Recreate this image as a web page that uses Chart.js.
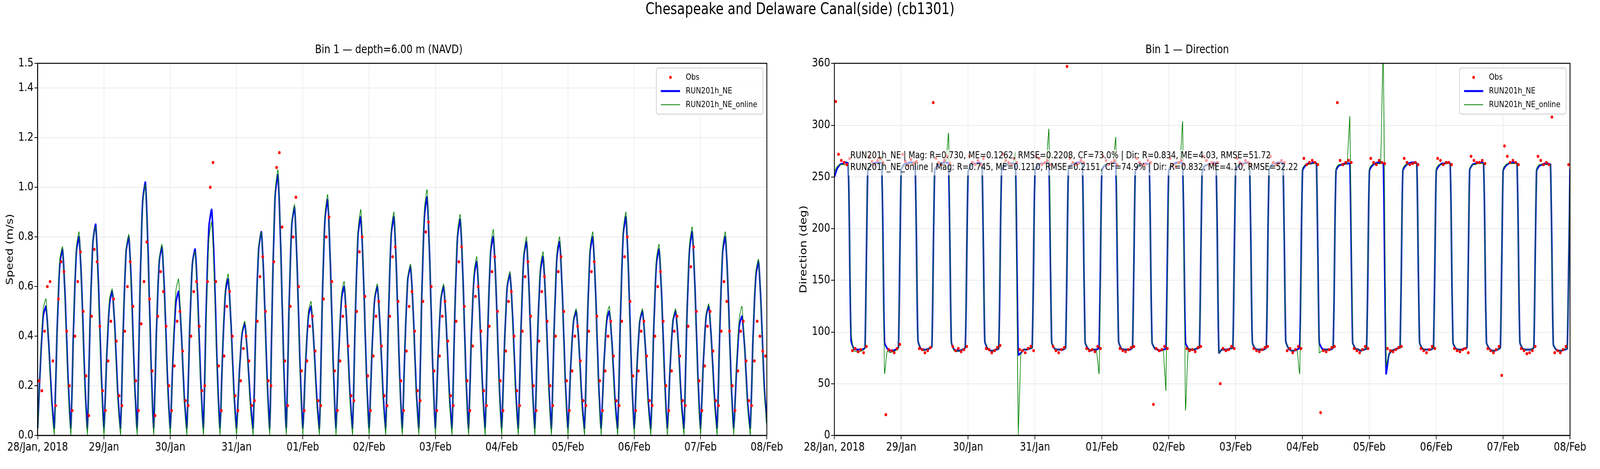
<!DOCTYPE html>
<html>
<head>
<meta charset="utf-8">
<script src="https://cdn.jsdelivr.net/npm/chart.js@4.4.1/dist/chart.umd.min.js"></script>
<style>
html, body { margin: 0; background: #fff; overflow: hidden; }
#page { position: absolute; left: 0; top: 0; width: 5000px; height: 1200px; transform-origin: 0 0; font-family: "DejaVu Sans", sans-serif; }
#sup { position: absolute; top: 0; left: 0; width: 5000px; text-align: center; font-size: 40px; line-height: 40px; padding-top: 2px; }
.wrap { position: absolute; top: 100px; height: 1100px; }
</style>
</head>
<body>
<div id="page">
<div id="sup">Chesapeake and Delaware Canal(side) (cb1301)</div>
<div class="wrap" style="left:10px;width:2440px"><canvas id="speed" style="width:2440px;height:1100px"></canvas></div>
<div class="wrap" style="left:2490px;width:2470px"><canvas id="dir" style="width:2470px;height:1100px"></canvas></div>
</div>
<script>
// fit the 5000x1200 layout to whatever the viewport really is
document.getElementById('page').style.transform = 'scale(' + (window.innerWidth / 5000) + ',' + (window.innerHeight / 1200) + ')';

// hours since 28/Jan 2018 00:00, one tick per day
var dayLabels = ["28/Jan, 2018", "29/Jan", "30/Jan", "31/Jan", "01/Feb", "02/Feb", "03/Feb", "04/Feb", "05/Feb", "06/Feb", "07/Feb", "08/Feb"];

// hourly model speed (m/s)
var speedNE = [
 0.03,0.29,0.48,0.52,0.37,0.16, 0.03,0.41,0.69,0.75,0.54,0.23, 0.03,0.44,0.74,0.80,0.58,0.24, 0.03,0.47,0.78,0.85,0.61,0.26,
 0.03,0.32,0.53,0.58,0.42,0.17, 0.03,0.44,0.74,0.80,0.58,0.24, 0.03,0.56,0.94,1.02,0.73,0.31, 0.03,0.42,0.70,0.76,0.55,0.23,
 0.03,0.32,0.53,0.58,0.42,0.17, 0.03,0.41,0.69,0.75,0.54,0.23, 0.03,0.50,0.84,0.91,0.66,0.27, 0.03,0.35,0.58,0.63,0.45,0.19,
 0.03,0.25,0.41,0.45,0.32,0.14, 0.03,0.45,0.75,0.82,0.59,0.25, 0.03,0.58,0.97,1.05,0.76,0.32, 0.03,0.51,0.85,0.92,0.66,0.28,
 0.03,0.29,0.48,0.52,0.37,0.16, 0.03,0.52,0.87,0.95,0.68,0.29, 0.03,0.33,0.55,0.60,0.43,0.18, 0.03,0.48,0.81,0.88,0.63,0.26,
 0.03,0.33,0.55,0.60,0.43,0.18, 0.03,0.48,0.81,0.88,0.63,0.26, 0.03,0.37,0.63,0.68,0.49,0.20, 0.03,0.53,0.88,0.96,0.69,0.29,
 0.03,0.33,0.55,0.60,0.43,0.18, 0.03,0.48,0.80,0.87,0.63,0.26, 0.03,0.39,0.64,0.70,0.50,0.21, 0.03,0.44,0.74,0.80,0.58,0.24,
 0.03,0.36,0.60,0.65,0.47,0.20, 0.03,0.43,0.72,0.78,0.56,0.23, 0.03,0.40,0.66,0.72,0.52,0.22, 0.03,0.43,0.72,0.78,0.56,0.23,
 0.03,0.28,0.46,0.50,0.36,0.15, 0.03,0.44,0.74,0.80,0.58,0.24, 0.03,0.28,0.46,0.50,0.36,0.15, 0.03,0.48,0.81,0.88,0.63,0.26,
 0.03,0.28,0.46,0.50,0.36,0.15, 0.03,0.41,0.69,0.75,0.54,0.23, 0.03,0.28,0.46,0.50,0.36,0.15, 0.03,0.45,0.75,0.82,0.59,0.25,
 0.03,0.29,0.48,0.52,0.37,0.16, 0.03,0.44,0.74,0.80,0.58,0.24, 0.03,0.26,0.44,0.48,0.35,0.14, 0.03,0.39,0.64,0.70,0.50,0.21,
 0.05
];
var speedOnline = [
 0.01,0.30,0.51,0.55,0.36,0.13, 0.00,0.42,0.71,0.76,0.52,0.20, 0.00,0.45,0.76,0.82,0.56,0.21, 0.00,0.47,0.79,0.84,0.58,0.22,
 0.00,0.33,0.55,0.59,0.40,0.14, 0.00,0.45,0.75,0.81,0.55,0.21, 0.00,0.55,0.93,1.01,0.71,0.28, 0.00,0.43,0.71,0.77,0.53,0.20,
 0.00,0.34,0.58,0.63,0.42,0.15, 0.00,0.40,0.69,0.74,0.51,0.20, 0.00,0.46,0.79,0.86,0.61,0.24, 0.00,0.36,0.60,0.65,0.44,0.16,
 0.00,0.25,0.42,0.46,0.31,0.11, 0.00,0.44,0.76,0.82,0.57,0.22, 0.00,0.59,0.99,1.07,0.76,0.29, 0.00,0.51,0.86,0.93,0.65,0.25,
 0.00,0.30,0.50,0.54,0.36,0.13, 0.00,0.52,0.89,0.97,0.67,0.26, 0.00,0.34,0.57,0.62,0.42,0.15, 0.00,0.49,0.83,0.91,0.63,0.24,
 0.00,0.34,0.56,0.61,0.42,0.15, 0.00,0.49,0.83,0.90,0.62,0.24, 0.00,0.38,0.64,0.69,0.47,0.18, 0.00,0.54,0.91,0.99,0.69,0.27,
 0.00,0.33,0.56,0.61,0.42,0.15, 0.00,0.49,0.82,0.89,0.62,0.24, 0.00,0.39,0.66,0.72,0.49,0.18, 0.00,0.45,0.76,0.83,0.57,0.22,
 0.00,0.36,0.61,0.66,0.45,0.17, 0.00,0.44,0.73,0.80,0.55,0.21, 0.00,0.40,0.68,0.74,0.51,0.19, 0.00,0.44,0.74,0.80,0.55,0.21,
 0.00,0.28,0.47,0.51,0.35,0.12, 0.00,0.45,0.76,0.82,0.57,0.22, 0.00,0.28,0.48,0.52,0.35,0.12, 0.00,0.49,0.83,0.90,0.62,0.24,
 0.00,0.28,0.47,0.51,0.35,0.12, 0.00,0.42,0.71,0.77,0.53,0.20, 0.00,0.28,0.47,0.51,0.35,0.12, 0.00,0.46,0.77,0.84,0.58,0.22,
 0.00,0.29,0.49,0.53,0.36,0.13, 0.00,0.45,0.76,0.82,0.57,0.22, 0.00,0.28,0.47,0.52,0.35,0.12, 0.00,0.39,0.66,0.71,0.49,0.19,
 0.03
];
// hourly observed speed (m/s), sampled at half past each hour
var speedObs = [
 0.22,0.18,0.42,0.60,0.62,0.30, 0.12,0.55,0.70,0.66,0.42,0.20, 0.10,0.40,0.62,0.74,0.50,0.24, 0.08,0.48,0.75,0.70,0.44,0.18,
 0.10,0.30,0.46,0.55,0.38,0.16, 0.12,0.42,0.60,0.70,0.52,0.22, 0.10,0.45,0.62,0.78,0.55,0.26, 0.08,0.48,0.66,0.58,0.44,0.20,
 0.10,0.28,0.46,0.50,0.34,0.14, 0.12,0.40,0.58,0.62,0.44,0.18, 0.20,0.62,1.00,1.10,0.62,0.28, 0.10,0.32,0.52,0.58,0.40,0.16,
 0.10,0.22,0.35,0.40,0.30,0.12, 0.14,0.46,0.64,0.72,0.50,0.22, 0.20,0.70,1.08,1.14,0.84,0.30, 0.12,0.52,0.80,0.96,0.60,0.26,
 0.10,0.30,0.44,0.48,0.34,0.14, 0.12,0.55,0.80,0.88,0.62,0.26, 0.10,0.30,0.48,0.52,0.36,0.16, 0.14,0.50,0.74,0.80,0.56,0.24,
 0.10,0.32,0.48,0.54,0.36,0.16, 0.12,0.48,0.72,0.76,0.54,0.22, 0.10,0.34,0.52,0.58,0.42,0.18, 0.14,0.54,0.82,0.86,0.60,0.26,
 0.10,0.32,0.48,0.54,0.38,0.16, 0.12,0.46,0.70,0.76,0.52,0.22, 0.10,0.36,0.56,0.60,0.42,0.18, 0.12,0.44,0.66,0.72,0.50,0.22,
 0.10,0.34,0.54,0.58,0.40,0.18, 0.12,0.42,0.64,0.70,0.48,0.20, 0.10,0.38,0.58,0.64,0.46,0.20, 0.12,0.40,0.66,0.72,0.50,0.22,
 0.10,0.26,0.40,0.44,0.30,0.14, 0.12,0.42,0.66,0.70,0.48,0.22, 0.10,0.26,0.40,0.46,0.32,0.14, 0.12,0.46,0.72,0.80,0.54,0.24,
 0.10,0.26,0.42,0.46,0.32,0.14, 0.12,0.40,0.60,0.66,0.46,0.20, 0.10,0.26,0.42,0.48,0.32,0.14, 0.12,0.44,0.68,0.76,0.50,0.22,
 0.10,0.28,0.44,0.50,0.34,0.14, 0.12,0.42,0.62,0.54,0.42,0.20, 0.10,0.26,0.42,0.46,0.30,0.14, 0.12,0.30,0.46,0.40,0.34,0.32
];

// hourly model direction (deg)
var dirNE = [
 250,258,262,263,264,263, 92,84,83,83,83,85, 256,261,263,264,264,263, 90,84,82,82,83,85,
 257,262,263,264,264,263, 92,84,83,83,84,86, 256,261,263,264,264,263, 90,83,82,82,83,85,
 255,261,263,263,264,262, 91,84,82,82,83,84, 256,261,262,263,263,262, 78,80,83,83,84,85,
 256,261,263,263,264,263, 90,84,83,83,83,85, 257,262,263,264,264,263, 90,84,82,83,83,85,
 256,261,262,263,264,263, 91,84,83,83,83,85, 255,260,262,263,263,262, 90,84,83,82,83,84,
 256,261,263,264,264,263, 90,84,83,83,84,85, 256,261,262,263,264,263, 80,83,83,83,84,85,
 256,261,263,263,264,263, 90,84,83,83,83,85, 257,262,263,264,264,263, 91,84,82,82,83,85,
 256,261,263,263,264,263, 90,84,83,83,83,85, 256,261,262,263,263,263, 90,84,83,82,83,84,
 256,261,263,264,264,263, 60,78,82,83,84,85, 256,261,263,264,264,263, 90,84,83,83,83,85,
 256,261,263,263,264,263, 90,84,83,83,84,85, 257,262,263,264,264,263, 90,84,82,82,83,85,
 256,261,263,264,264,263, 90,84,83,83,83,85, 256,261,262,263,263,262, 88,83,82,82,83,84,
 258
];
var dirOnline = [
 255,260,262,262,262,262, 100,82,81,81,82,84, 258,262,263,263,263,270, 60,82,80,81,82,84,
 258,262,262,263,263,265, 92,84,82,83,84,86, 258,262,263,263,264,292, 88,82,81,82,83,85,
 256,261,262,262,263,262, 92,84,82,82,83,84, 260,262,262,262,262,274, 0,80,83,83,84,85,
 258,262,263,263,263,296, 90,84,83,83,83,85, 258,262,263,263,263,263, 90,84,82,83,83,60,
 258,262,262,263,263,288, 91,84,83,83,83,85, 256,260,262,262,262,262, 90,84,83,82,83,44,
 258,262,262,263,263,303, 25,84,83,83,84,85, 256,261,262,262,263,263, 80,83,83,83,84,85,
 258,262,263,263,263,263, 90,84,83,83,83,85, 258,262,263,263,263,263, 91,84,82,82,83,60,
 258,262,262,263,263,263, 80,82,83,83,83,85, 258,262,262,262,263,308, 90,84,83,82,83,84,
 258,262,263,263,263,378, 68,78,82,83,84,85, 258,262,262,263,263,263, 90,84,83,83,83,85,
 258,262,262,263,263,263, 90,84,83,83,84,85, 258,262,262,263,263,263, 90,84,82,82,83,85,
 258,262,263,263,263,263, 90,84,83,83,83,85, 258,262,262,262,262,262, 88,83,82,82,83,84,
 258
];
var dirObs = [
 323,272,266,264,262,268, 82,84,81,83,80,86, 270,265,262,266,268,264, 20,83,82,80,84,88,
 272,265,261,267,263,265, 84,83,80,82,85,322, 268,264,262,266,270,263, 86,82,84,81,83,86,
 270,264,262,266,262,268, 84,83,80,82,85,87, 272,266,264,262,268,264, 83,82,80,84,86,82,
 270,268,262,264,266,262, 86,82,80,83,85,357, 268,264,262,263,266,264, 84,82,83,81,86,84,
 270,266,262,264,266,262, 84,82,81,83,85,86, 268,264,262,262,266,264, 30,84,82,83,86,84,
 268,262,260,264,266,262, 84,82,83,81,85,86, 270,266,262,264,262,264, 50,84,82,83,86,84,
 268,264,262,266,264,262, 84,82,81,83,85,86, 270,264,262,263,266,264, 82,84,80,83,86,84,
 268,262,264,266,264,262, 22,82,81,83,85,86, 322,266,262,264,266,264, 84,82,80,83,86,84,
 268,264,262,266,264,263, 84,82,81,83,85,86, 268,264,262,263,264,262, 84,82,80,83,86,84,
 268,266,262,264,264,262, 84,82,81,83,84,80, 270,266,264,264,266,263, 84,82,80,83,86,58,
 280,270,264,266,264,262, 84,82,79,80,82,86, 270,266,262,264,262,308, 80,82,80,83,86,262
];

function series(values, offset) {
    return values.map(function (v, i) { return { x: i + offset, y: v }; });
}

// matplotlib-like frame, legend and optional stats text
var framePlugin = {
    id: 'frame',
    afterDraw: function (chart) {
        var a = chart.chartArea, c = chart.ctx;
        c.save();
        c.strokeStyle = '#000';
        c.lineWidth = 2.5;
        c.strokeRect(a.left, a.top, a.right - a.left, a.bottom - a.top);

        var stats = chart.options.plugins.frame.stats;
        if (stats) {
            c.font = '24px "DejaVu Sans"';
            var w = 0;
            stats.forEach(function (s) { w = Math.max(w, c.measureText(s).width); });
            var sx = a.left + 50, sy = a.top + 225;
            c.fillStyle = 'rgba(255,255,255,0.6)';
            c.fillRect(sx - 6, sy - 4, w + 12, 66);
            c.fillStyle = '#000';
            c.textBaseline = 'top';
            stats.forEach(function (s, i) { c.fillText(s, sx, sy + i * 30); });
        }

        // legend box
        var items = [['Obs', 'dot', '#ff0000'], ['RUN201h_NE', 'line', '#0000ff', 5], ['RUN201h_NE_online', 'line', '#008000', 2]];
        c.font = '22px "DejaVu Sans"';
        var lw = c.measureText('RUN201h_NE_online').width + 110;
        var lh = 118;
        var lx = a.right - lw - 12, ly = a.top + 12;
        c.fillStyle = 'rgba(255,255,255,0.85)';
        c.strokeStyle = '#cccccc';
        c.lineWidth = 2;
        c.beginPath();
        c.roundRect(lx, ly, lw, lh, 6);
        c.fill();
        c.stroke();
        c.textBaseline = 'middle';
        items.forEach(function (it, i) {
            var yy = ly + 24 + i * 35;
            if (it[1] === 'dot') {
                c.fillStyle = it[2];
                c.beginPath();
                c.arc(lx + 44, yy, 4, 0, Math.PI * 2);
                c.fill();
            } else {
                c.strokeStyle = it[2];
                c.lineWidth = it[3];
                c.beginPath();
                c.moveTo(lx + 14, yy);
                c.lineTo(lx + 74, yy);
                c.stroke();
            }
            c.fillStyle = '#000';
            c.fillText(it[0], lx + 92, yy);
        });
        c.restore();
    }
};

function makeChart(id, title, yTitle, obs, ne, online, yMax, yStep, stats) {
    return new Chart(document.getElementById(id), {
        type: 'scatter',
        data: {
            datasets: [
                { label: 'RUN201h_NE_online', data: series(online, 0), showLine: true, borderColor: '#008000', borderWidth: 2, pointRadius: 0, tension: 0.2, order: 1 },
                { label: 'RUN201h_NE', data: series(ne, 0), showLine: true, borderColor: '#0000ff', borderWidth: 5, pointRadius: 0, tension: 0.2, order: 2 },
                { label: 'Obs', data: series(obs, 0.5), backgroundColor: '#ff0000', borderWidth: 0, pointRadius: 4, order: 0 }
            ]
        },
        options: {
            responsive: false,
            animation: false,
            layout: { padding: { right: 30, bottom: 34 } },
            plugins: {
                legend: { display: false },
                tooltip: { enabled: false },
                title: { display: true, text: title, color: '#000', font: { size: 30, weight: 'normal', family: 'DejaVu Sans' }, padding: { top: 10, bottom: 16 } },
                frame: { stats: stats }
            },
            scales: {
                x: {
                    type: 'linear', min: 0, max: 264,
                    grid: { color: '#ebebeb', lineWidth: 2, tickColor: '#000', tickLength: 10 },
                    border: { color: '#000', width: 2.5 },
                    afterBuildTicks: function (ax) {
                        ax.ticks = dayLabels.map(function (l, i) { return { value: i * 24 }; });
                    },
                    ticks: {
                        color: '#000', font: { size: 30, family: 'DejaVu Sans' }, maxRotation: 0, autoSkip: false,
                        callback: function (v) { return dayLabels[Math.round(v / 24)]; }
                    }
                },
                y: {
                    min: 0, max: yMax,
                    grid: { color: '#ebebeb', lineWidth: 2, tickColor: '#000', tickLength: 10 },
                    border: { color: '#000', width: 2.5 },
                    title: { display: true, text: yTitle, color: '#000', font: { size: 30, family: 'DejaVu Sans' } },
                    ticks: {
                        color: '#000', font: { size: 30, family: 'DejaVu Sans' }, stepSize: yStep,
                        callback: function (v) { return yStep < 1 ? v.toFixed(1) : v; }
                    }
                }
            }
        },
        plugins: [framePlugin]
    });
}

makeChart('speed', 'Bin 1 \u2014 depth=6.00 m (NAVD)', 'Speed (m/s)', speedObs, speedNE, speedOnline, 1.5, 0.2, null);
makeChart('dir', 'Bin 1 \u2014 Direction', 'Direction (deg)', dirObs, dirNE, dirOnline, 360, 50, [
    'RUN201h_NE | Mag: R=0.730, ME=0.1262, RMSE=0.2208, CF=73.0% | Dir: R=0.834, ME=4.03, RMSE=51.72',
    'RUN201h_NE_online | Mag: R=0.745, ME=0.1210, RMSE=0.2151, CF=74.9% | Dir: R=0.832, ME=4.10, RMSE=52.22'
]);
</script>
</body>
</html>
